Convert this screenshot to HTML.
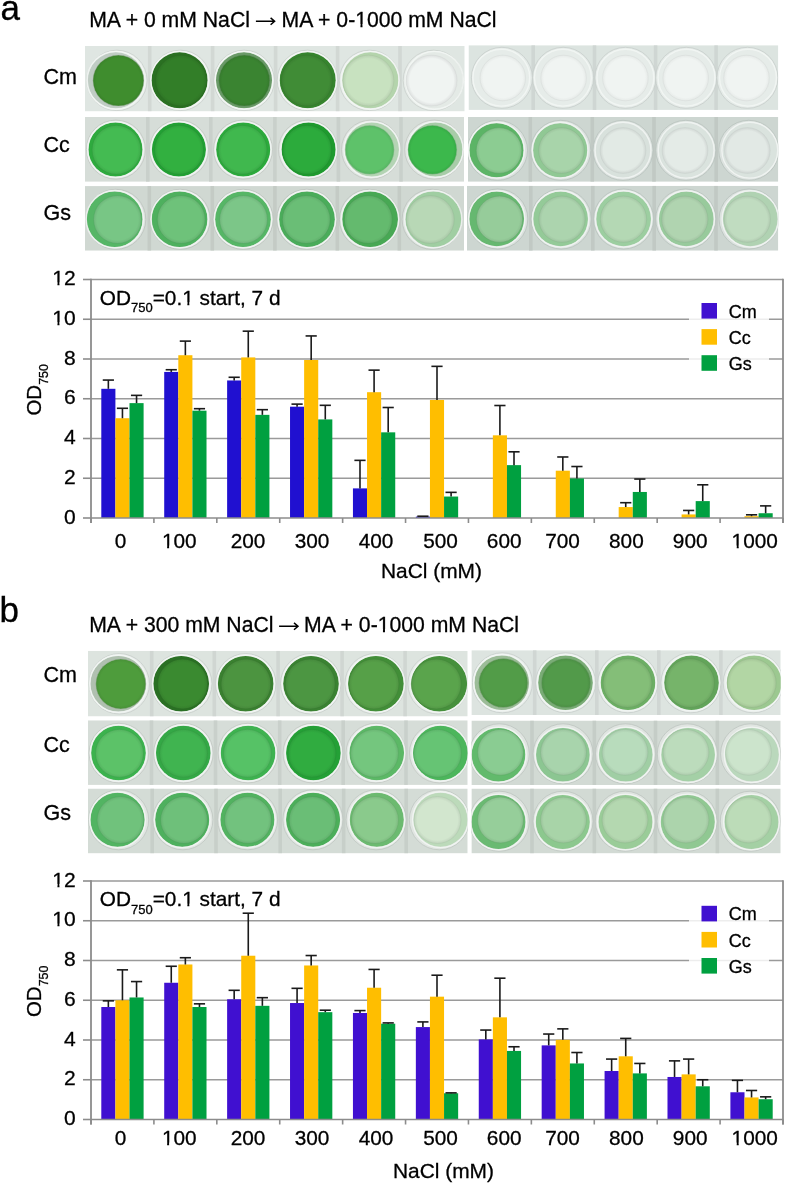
<!DOCTYPE html>
<html><head><meta charset="utf-8"><style>
html,body{margin:0;padding:0;background:#fff;}
body{width:785px;height:1184px;overflow:hidden;position:relative;font-family:"Liberation Sans", sans-serif;}
svg{position:absolute;left:0;top:0;will-change:transform;}
text{stroke:#000;stroke-width:0.3px;}
</style></head><body>
<svg width="785" height="1184" viewBox="0 0 785 1184" font-family='"Liberation Sans", sans-serif' fill="#000">
<text x="0.5" y="20.3" font-size="35">a</text>
<text x="89.2" y="26.9" font-size="21.2">MA + 0 mM NaCl</text>
<path d="M255.9 21.3 H274.3 M270.6 17.9 L274.6 21.3 L270.6 24.8" stroke="#000" stroke-width="1.5" fill="none"/>
<text x="281.6" y="26.9" font-size="21.2">MA + 0-1000 mM NaCl</text>
<text x="-0.5" y="622" font-size="35">b</text>
<text x="89.2" y="631.7" font-size="21.2">MA + 300 mM NaCl</text>
<path d="M279.1 626.3 H297.7 M294 622.9 L298 626.3 L294 629.8" stroke="#000" stroke-width="1.5" fill="none"/>
<text x="304.1" y="631.7" font-size="21.2">MA + 0-1000 mM NaCl</text>
<g font-size="21.5">
<text x="43.6" y="83.8">Cm</text><text x="43.6" y="151.8">Cc</text><text x="43.6" y="219.8">Gs</text>
<text x="43.6" y="682">Cm</text><text x="43.6" y="751.8">Cc</text><text x="43.6" y="820.3">Gs</text>
</g>
<defs><clipPath id="clip0"><rect x="85" y="46" width="379.70" height="65.40"/></clipPath><radialGradient id="rg1" cx="0.5" cy="0.5" r="0.5"><stop offset="0" stop-color="#3f8d2e"/><stop offset="0.86" stop-color="#3f8d2e"/><stop offset="1" stop-color="#3a822a"/></radialGradient><radialGradient id="rg2" cx="0.5" cy="0.5" r="0.5"><stop offset="0" stop-color="#327e28"/><stop offset="0.86" stop-color="#327e28"/><stop offset="1" stop-color="#2e7425"/></radialGradient><radialGradient id="rg3" cx="0.5" cy="0.5" r="0.5"><stop offset="0" stop-color="#3a8431"/><stop offset="0.86" stop-color="#3a8431"/><stop offset="1" stop-color="#35792d"/></radialGradient><radialGradient id="rg4" cx="0.5" cy="0.5" r="0.5"><stop offset="0" stop-color="#408c36"/><stop offset="0.86" stop-color="#408c36"/><stop offset="1" stop-color="#3b8132"/></radialGradient><radialGradient id="rg5" cx="0.5" cy="0.5" r="0.5"><stop offset="0" stop-color="#c8e2c0"/><stop offset="0.86" stop-color="#c8e2c0"/><stop offset="1" stop-color="#b8d0b1"/></radialGradient><radialGradient id="rg6" cx="0.5" cy="0.5" r="0.5"><stop offset="0" stop-color="#f0f4f2"/><stop offset="0.86" stop-color="#f0f4f2"/><stop offset="1" stop-color="#dde0df"/></radialGradient><clipPath id="clip1"><rect x="468.5" y="45.2" width="309.80" height="64.70"/></clipPath><radialGradient id="rg7" cx="0.5" cy="0.5" r="0.5"><stop offset="0" stop-color="#f0f4f2"/><stop offset="0.86" stop-color="#f0f4f2"/><stop offset="1" stop-color="#e6eae8"/></radialGradient><radialGradient id="rg8" cx="0.5" cy="0.5" r="0.5"><stop offset="0" stop-color="#f0f4f2"/><stop offset="0.86" stop-color="#f0f4f2"/><stop offset="1" stop-color="#e6eae8"/></radialGradient><radialGradient id="rg9" cx="0.5" cy="0.5" r="0.5"><stop offset="0" stop-color="#f0f4f2"/><stop offset="0.86" stop-color="#f0f4f2"/><stop offset="1" stop-color="#e6eae8"/></radialGradient><radialGradient id="rg10" cx="0.5" cy="0.5" r="0.5"><stop offset="0" stop-color="#f0f4f2"/><stop offset="0.86" stop-color="#f0f4f2"/><stop offset="1" stop-color="#e6eae8"/></radialGradient><radialGradient id="rg11" cx="0.5" cy="0.5" r="0.5"><stop offset="0" stop-color="#f0f4f2"/><stop offset="0.86" stop-color="#f0f4f2"/><stop offset="1" stop-color="#e6eae8"/></radialGradient><clipPath id="clip2"><rect x="85" y="116.9" width="379.00" height="64.90"/></clipPath><radialGradient id="rg12" cx="0.5" cy="0.5" r="0.5"><stop offset="0" stop-color="#44bb52"/><stop offset="0.86" stop-color="#44bb52"/><stop offset="1" stop-color="#3fac4b"/></radialGradient><radialGradient id="rg13" cx="0.5" cy="0.5" r="0.5"><stop offset="0" stop-color="#32b040"/><stop offset="0.86" stop-color="#32b040"/><stop offset="1" stop-color="#2ea23b"/></radialGradient><radialGradient id="rg14" cx="0.5" cy="0.5" r="0.5"><stop offset="0" stop-color="#40b84e"/><stop offset="0.86" stop-color="#40b84e"/><stop offset="1" stop-color="#3ba948"/></radialGradient><radialGradient id="rg15" cx="0.5" cy="0.5" r="0.5"><stop offset="0" stop-color="#2cab3c"/><stop offset="0.86" stop-color="#2cab3c"/><stop offset="1" stop-color="#289d37"/></radialGradient><radialGradient id="rg16" cx="0.5" cy="0.5" r="0.5"><stop offset="0" stop-color="#5ec26a"/><stop offset="0.86" stop-color="#5ec26a"/><stop offset="1" stop-color="#56b262"/></radialGradient><radialGradient id="rg17" cx="0.5" cy="0.5" r="0.5"><stop offset="0" stop-color="#3cb84c"/><stop offset="0.86" stop-color="#3cb84c"/><stop offset="1" stop-color="#37a946"/></radialGradient><clipPath id="clip3"><rect x="468" y="116.9" width="310.30" height="64.90"/></clipPath><radialGradient id="rg18" cx="0.5" cy="0.5" r="0.5"><stop offset="0" stop-color="#8ccc92"/><stop offset="0.86" stop-color="#8ccc92"/><stop offset="1" stop-color="#81bc86"/></radialGradient><radialGradient id="rg19" cx="0.5" cy="0.5" r="0.5"><stop offset="0" stop-color="#a8d4aa"/><stop offset="0.86" stop-color="#a8d4aa"/><stop offset="1" stop-color="#9bc39c"/></radialGradient><radialGradient id="rg20" cx="0.5" cy="0.5" r="0.5"><stop offset="0" stop-color="#e2eae5"/><stop offset="0.86" stop-color="#e2eae5"/><stop offset="1" stop-color="#d0d7d3"/></radialGradient><radialGradient id="rg21" cx="0.5" cy="0.5" r="0.5"><stop offset="0" stop-color="#e4ebe7"/><stop offset="0.86" stop-color="#e4ebe7"/><stop offset="1" stop-color="#d2d8d5"/></radialGradient><radialGradient id="rg22" cx="0.5" cy="0.5" r="0.5"><stop offset="0" stop-color="#e2e9e5"/><stop offset="0.86" stop-color="#e2e9e5"/><stop offset="1" stop-color="#d0d6d3"/></radialGradient><clipPath id="clip4"><rect x="85" y="186.1" width="379.00" height="64.60"/></clipPath><radialGradient id="rg23" cx="0.5" cy="0.5" r="0.5"><stop offset="0" stop-color="#78c685"/><stop offset="0.86" stop-color="#78c685"/><stop offset="1" stop-color="#6eb67a"/></radialGradient><radialGradient id="rg24" cx="0.5" cy="0.5" r="0.5"><stop offset="0" stop-color="#6ec27a"/><stop offset="0.86" stop-color="#6ec27a"/><stop offset="1" stop-color="#65b270"/></radialGradient><radialGradient id="rg25" cx="0.5" cy="0.5" r="0.5"><stop offset="0" stop-color="#7cc688"/><stop offset="0.86" stop-color="#7cc688"/><stop offset="1" stop-color="#72b67d"/></radialGradient><radialGradient id="rg26" cx="0.5" cy="0.5" r="0.5"><stop offset="0" stop-color="#6abe76"/><stop offset="0.86" stop-color="#6abe76"/><stop offset="1" stop-color="#62af6d"/></radialGradient><radialGradient id="rg27" cx="0.5" cy="0.5" r="0.5"><stop offset="0" stop-color="#64ba6e"/><stop offset="0.86" stop-color="#64ba6e"/><stop offset="1" stop-color="#5cab65"/></radialGradient><radialGradient id="rg28" cx="0.5" cy="0.5" r="0.5"><stop offset="0" stop-color="#b8d8b6"/><stop offset="0.86" stop-color="#b8d8b6"/><stop offset="1" stop-color="#a9c7a7"/></radialGradient><clipPath id="clip5"><rect x="467" y="185.8" width="311.30" height="64.90"/></clipPath><radialGradient id="rg29" cx="0.5" cy="0.5" r="0.5"><stop offset="0" stop-color="#96cc9a"/><stop offset="0.86" stop-color="#96cc9a"/><stop offset="1" stop-color="#8abc8e"/></radialGradient><radialGradient id="rg30" cx="0.5" cy="0.5" r="0.5"><stop offset="0" stop-color="#acd4ae"/><stop offset="0.86" stop-color="#acd4ae"/><stop offset="1" stop-color="#9ec3a0"/></radialGradient><radialGradient id="rg31" cx="0.5" cy="0.5" r="0.5"><stop offset="0" stop-color="#b4d8b4"/><stop offset="0.86" stop-color="#b4d8b4"/><stop offset="1" stop-color="#a6c7a6"/></radialGradient><radialGradient id="rg32" cx="0.5" cy="0.5" r="0.5"><stop offset="0" stop-color="#b0d4b0"/><stop offset="0.86" stop-color="#b0d4b0"/><stop offset="1" stop-color="#a2c3a2"/></radialGradient><radialGradient id="rg33" cx="0.5" cy="0.5" r="0.5"><stop offset="0" stop-color="#c0dcc0"/><stop offset="0.86" stop-color="#c0dcc0"/><stop offset="1" stop-color="#b1cab1"/></radialGradient><clipPath id="clip6"><rect x="88" y="650.8" width="379.70" height="65.70"/></clipPath><radialGradient id="rg34" cx="0.5" cy="0.5" r="0.5"><stop offset="0" stop-color="#4e9c3c"/><stop offset="0.86" stop-color="#4e9c3c"/><stop offset="1" stop-color="#489037"/></radialGradient><radialGradient id="rg35" cx="0.5" cy="0.5" r="0.5"><stop offset="0" stop-color="#3a8a30"/><stop offset="0.86" stop-color="#3a8a30"/><stop offset="1" stop-color="#357f2c"/></radialGradient><radialGradient id="rg36" cx="0.5" cy="0.5" r="0.5"><stop offset="0" stop-color="#4c9440"/><stop offset="0.86" stop-color="#4c9440"/><stop offset="1" stop-color="#46883b"/></radialGradient><radialGradient id="rg37" cx="0.5" cy="0.5" r="0.5"><stop offset="0" stop-color="#4c9642"/><stop offset="0.86" stop-color="#4c9642"/><stop offset="1" stop-color="#468a3d"/></radialGradient><radialGradient id="rg38" cx="0.5" cy="0.5" r="0.5"><stop offset="0" stop-color="#56a048"/><stop offset="0.86" stop-color="#56a048"/><stop offset="1" stop-color="#4f9342"/></radialGradient><radialGradient id="rg39" cx="0.5" cy="0.5" r="0.5"><stop offset="0" stop-color="#5aa44c"/><stop offset="0.86" stop-color="#5aa44c"/><stop offset="1" stop-color="#539746"/></radialGradient><clipPath id="clip7"><rect x="471.4" y="650.2" width="309.30" height="64.90"/></clipPath><radialGradient id="rg40" cx="0.5" cy="0.5" r="0.5"><stop offset="0" stop-color="#529c48"/><stop offset="0.86" stop-color="#529c48"/><stop offset="1" stop-color="#4b9042"/></radialGradient><radialGradient id="rg41" cx="0.5" cy="0.5" r="0.5"><stop offset="0" stop-color="#529a4a"/><stop offset="0.86" stop-color="#529a4a"/><stop offset="1" stop-color="#4b8e44"/></radialGradient><radialGradient id="rg42" cx="0.5" cy="0.5" r="0.5"><stop offset="0" stop-color="#84be78"/><stop offset="0.86" stop-color="#84be78"/><stop offset="1" stop-color="#79af6e"/></radialGradient><radialGradient id="rg43" cx="0.5" cy="0.5" r="0.5"><stop offset="0" stop-color="#76b46a"/><stop offset="0.86" stop-color="#76b46a"/><stop offset="1" stop-color="#6da662"/></radialGradient><radialGradient id="rg44" cx="0.5" cy="0.5" r="0.5"><stop offset="0" stop-color="#b2d6a4"/><stop offset="0.86" stop-color="#b2d6a4"/><stop offset="1" stop-color="#a4c597"/></radialGradient><clipPath id="clip8"><rect x="88" y="720.3" width="379.70" height="64.60"/></clipPath><radialGradient id="rg45" cx="0.5" cy="0.5" r="0.5"><stop offset="0" stop-color="#5cc268"/><stop offset="0.86" stop-color="#5cc268"/><stop offset="1" stop-color="#55b260"/></radialGradient><radialGradient id="rg46" cx="0.5" cy="0.5" r="0.5"><stop offset="0" stop-color="#40b450"/><stop offset="0.86" stop-color="#40b450"/><stop offset="1" stop-color="#3ba64a"/></radialGradient><radialGradient id="rg47" cx="0.5" cy="0.5" r="0.5"><stop offset="0" stop-color="#56c266"/><stop offset="0.86" stop-color="#56c266"/><stop offset="1" stop-color="#4fb25e"/></radialGradient><radialGradient id="rg48" cx="0.5" cy="0.5" r="0.5"><stop offset="0" stop-color="#30ac40"/><stop offset="0.86" stop-color="#30ac40"/><stop offset="1" stop-color="#2c9e3b"/></radialGradient><radialGradient id="rg49" cx="0.5" cy="0.5" r="0.5"><stop offset="0" stop-color="#74c67e"/><stop offset="0.86" stop-color="#74c67e"/><stop offset="1" stop-color="#6bb674"/></radialGradient><radialGradient id="rg50" cx="0.5" cy="0.5" r="0.5"><stop offset="0" stop-color="#66c474"/><stop offset="0.86" stop-color="#66c474"/><stop offset="1" stop-color="#5eb46b"/></radialGradient><clipPath id="clip9"><rect x="471.4" y="720.5" width="309.30" height="64.60"/></clipPath><radialGradient id="rg51" cx="0.5" cy="0.5" r="0.5"><stop offset="0" stop-color="#8acc92"/><stop offset="0.86" stop-color="#8acc92"/><stop offset="1" stop-color="#7fbc86"/></radialGradient><radialGradient id="rg52" cx="0.5" cy="0.5" r="0.5"><stop offset="0" stop-color="#a8d4ac"/><stop offset="0.86" stop-color="#a8d4ac"/><stop offset="1" stop-color="#9bc39e"/></radialGradient><radialGradient id="rg53" cx="0.5" cy="0.5" r="0.5"><stop offset="0" stop-color="#b8dcbc"/><stop offset="0.86" stop-color="#b8dcbc"/><stop offset="1" stop-color="#a9caad"/></radialGradient><radialGradient id="rg54" cx="0.5" cy="0.5" r="0.5"><stop offset="0" stop-color="#bcdcbc"/><stop offset="0.86" stop-color="#bcdcbc"/><stop offset="1" stop-color="#adcaad"/></radialGradient><radialGradient id="rg55" cx="0.5" cy="0.5" r="0.5"><stop offset="0" stop-color="#cce4cc"/><stop offset="0.86" stop-color="#cce4cc"/><stop offset="1" stop-color="#bcd2bc"/></radialGradient><clipPath id="clip10"><rect x="88" y="788.5" width="379.70" height="64.90"/></clipPath><radialGradient id="rg56" cx="0.5" cy="0.5" r="0.5"><stop offset="0" stop-color="#70c27c"/><stop offset="0.86" stop-color="#70c27c"/><stop offset="1" stop-color="#67b272"/></radialGradient><radialGradient id="rg57" cx="0.5" cy="0.5" r="0.5"><stop offset="0" stop-color="#6ec07a"/><stop offset="0.86" stop-color="#6ec07a"/><stop offset="1" stop-color="#65b170"/></radialGradient><radialGradient id="rg58" cx="0.5" cy="0.5" r="0.5"><stop offset="0" stop-color="#72c27e"/><stop offset="0.86" stop-color="#72c27e"/><stop offset="1" stop-color="#69b274"/></radialGradient><radialGradient id="rg59" cx="0.5" cy="0.5" r="0.5"><stop offset="0" stop-color="#6abe76"/><stop offset="0.86" stop-color="#6abe76"/><stop offset="1" stop-color="#62af6d"/></radialGradient><radialGradient id="rg60" cx="0.5" cy="0.5" r="0.5"><stop offset="0" stop-color="#8aca8c"/><stop offset="0.86" stop-color="#8aca8c"/><stop offset="1" stop-color="#7fba81"/></radialGradient><radialGradient id="rg61" cx="0.5" cy="0.5" r="0.5"><stop offset="0" stop-color="#d2e6ce"/><stop offset="0.86" stop-color="#d2e6ce"/><stop offset="1" stop-color="#c1d4be"/></radialGradient><clipPath id="clip11"><rect x="471.4" y="788.5" width="309.30" height="64.90"/></clipPath><radialGradient id="rg62" cx="0.5" cy="0.5" r="0.5"><stop offset="0" stop-color="#96ce9a"/><stop offset="0.86" stop-color="#96ce9a"/><stop offset="1" stop-color="#8abe8e"/></radialGradient><radialGradient id="rg63" cx="0.5" cy="0.5" r="0.5"><stop offset="0" stop-color="#a8d4a8"/><stop offset="0.86" stop-color="#a8d4a8"/><stop offset="1" stop-color="#9bc39b"/></radialGradient><radialGradient id="rg64" cx="0.5" cy="0.5" r="0.5"><stop offset="0" stop-color="#b4d8b0"/><stop offset="0.86" stop-color="#b4d8b0"/><stop offset="1" stop-color="#a6c7a2"/></radialGradient><radialGradient id="rg65" cx="0.5" cy="0.5" r="0.5"><stop offset="0" stop-color="#acd4ac"/><stop offset="0.86" stop-color="#acd4ac"/><stop offset="1" stop-color="#9ec39e"/></radialGradient><radialGradient id="rg66" cx="0.5" cy="0.5" r="0.5"><stop offset="0" stop-color="#bcdcb8"/><stop offset="0.86" stop-color="#bcdcb8"/><stop offset="1" stop-color="#adcaa9"/></radialGradient></defs><g clip-path="url(#clip0)">
<rect x="85" y="46" width="379.70" height="65.40" fill="#dfe6e2"/>
<rect x="147.9" y="46" width="3.6" height="65.40" fill="#d2d8d4"/>
<rect x="210.8" y="46" width="3.6" height="65.40" fill="#d2d8d4"/>
<rect x="273.8" y="46" width="3.6" height="65.40" fill="#d2d8d4"/>
<rect x="335.8" y="46" width="3.6" height="65.40" fill="#d2d8d4"/>
<rect x="398.2" y="46" width="3.6" height="65.40" fill="#d2d8d4"/>
<circle cx="116.9" cy="80.4" r="30.2" fill="#e9eeeb" stroke="#c9cfcb" stroke-width="0.8"/>
<circle cx="115.9" cy="80.3" r="28.0" fill="#c0ccc4"/>
<circle cx="115.9" cy="80.3" r="28.9" fill="none" stroke="#f4f7f5" stroke-width="1.4" stroke-opacity="0.8"/>
<circle cx="118.4" cy="80.6" r="25.5" fill="url(#rg1)" stroke="#b1bcb4" stroke-width="0.8" stroke-opacity="0.6"/>
<circle cx="180.2" cy="80.4" r="30.2" fill="#e9eeeb" stroke="#c9cfcb" stroke-width="0.8"/>
<circle cx="179.6" cy="80.3" r="28.0" fill="#2a7022"/>
<circle cx="179.6" cy="80.3" r="28.9" fill="none" stroke="#f4f7f5" stroke-width="1.4" stroke-opacity="0.8"/>
<circle cx="181.0" cy="80.6" r="25.5" fill="url(#rg2)" stroke="#27671f" stroke-width="0.8" stroke-opacity="0.6"/>
<circle cx="244.1" cy="80.4" r="30.2" fill="#e9eeeb" stroke="#c9cfcb" stroke-width="0.8"/>
<circle cx="244.0" cy="80.3" r="28.0" fill="#6a9a68"/>
<circle cx="244.0" cy="80.3" r="28.9" fill="none" stroke="#f4f7f5" stroke-width="1.4" stroke-opacity="0.8"/>
<circle cx="244.3" cy="80.6" r="25.5" fill="url(#rg3)" stroke="#628e60" stroke-width="0.8" stroke-opacity="0.6"/>
<circle cx="307.4" cy="80.4" r="30.2" fill="#e9eeeb" stroke="#c9cfcb" stroke-width="0.8"/>
<circle cx="307.7" cy="80.3" r="28.0" fill="#36842e"/>
<circle cx="307.7" cy="80.3" r="28.9" fill="none" stroke="#f4f7f5" stroke-width="1.4" stroke-opacity="0.8"/>
<circle cx="306.9" cy="80.6" r="25.5" fill="url(#rg4)" stroke="#32792a" stroke-width="0.8" stroke-opacity="0.6"/>
<circle cx="369.5" cy="80.4" r="30.2" fill="#e9eeeb" stroke="#c9cfcb" stroke-width="0.8"/>
<circle cx="370.3" cy="80.3" r="28.0" fill="#b4d4ac"/>
<circle cx="370.3" cy="80.3" r="28.9" fill="none" stroke="#f4f7f5" stroke-width="1.4" stroke-opacity="0.8"/>
<circle cx="368.4" cy="80.6" r="25.5" fill="url(#rg5)" stroke="#a6c39e" stroke-width="0.8" stroke-opacity="0.6"/>
<circle cx="433.4" cy="80.4" r="30.2" fill="#e9eeeb" stroke="#c9cfcb" stroke-width="0.8"/>
<circle cx="434.6" cy="80.3" r="28.0" fill="#e4eae6"/>
<circle cx="434.6" cy="80.3" r="28.9" fill="none" stroke="#f4f7f5" stroke-width="1.4" stroke-opacity="0.8"/>
<circle cx="431.6" cy="80.6" r="25.5" fill="url(#rg6)" stroke="#d2d7d4" stroke-width="0.8" stroke-opacity="0.6"/>
</g>
<g clip-path="url(#clip1)">
<rect x="468.5" y="45.2" width="309.80" height="64.70" fill="#dce4e0"/>
<rect x="531.4" y="45.2" width="3.6" height="64.70" fill="#cfd6d3"/>
<rect x="592.7" y="45.2" width="3.6" height="64.70" fill="#cfd6d3"/>
<rect x="653.8" y="45.2" width="3.6" height="64.70" fill="#cfd6d3"/>
<rect x="714.3" y="45.2" width="3.6" height="64.70" fill="#cfd6d3"/>
<circle cx="501.9" cy="77.8" r="30.5" fill="#e6ece9" stroke="#c6cdca" stroke-width="0.8"/>
<circle cx="501.3" cy="77.7" r="27.5" fill="#e6ece9"/>
<circle cx="501.3" cy="77.7" r="28.4" fill="none" stroke="#f4f7f5" stroke-width="1.4" stroke-opacity="0.8"/>
<circle cx="502.8" cy="78.0" r="22.8" fill="url(#rg7)" stroke="#d4d9d6" stroke-width="0.8" stroke-opacity="0.6"/>
<circle cx="563.1" cy="77.8" r="30.5" fill="#e6ece9" stroke="#c6cdca" stroke-width="0.8"/>
<circle cx="562.9" cy="77.7" r="27.5" fill="#e6ece9"/>
<circle cx="562.9" cy="77.7" r="28.4" fill="none" stroke="#f4f7f5" stroke-width="1.4" stroke-opacity="0.8"/>
<circle cx="563.6" cy="78.0" r="22.8" fill="url(#rg8)" stroke="#d4d9d6" stroke-width="0.8" stroke-opacity="0.6"/>
<circle cx="625.4" cy="77.8" r="30.5" fill="#e6ece9" stroke="#c6cdca" stroke-width="0.8"/>
<circle cx="625.4" cy="77.7" r="27.5" fill="#e6ece9"/>
<circle cx="625.4" cy="77.7" r="28.4" fill="none" stroke="#f4f7f5" stroke-width="1.4" stroke-opacity="0.8"/>
<circle cx="625.4" cy="78.0" r="22.8" fill="url(#rg9)" stroke="#d4d9d6" stroke-width="0.8" stroke-opacity="0.6"/>
<circle cx="686.2" cy="77.8" r="30.5" fill="#e6ece9" stroke="#c6cdca" stroke-width="0.8"/>
<circle cx="686.5" cy="77.7" r="27.5" fill="#e6ece9"/>
<circle cx="686.5" cy="77.7" r="28.4" fill="none" stroke="#f4f7f5" stroke-width="1.4" stroke-opacity="0.8"/>
<circle cx="685.7" cy="78.0" r="22.8" fill="url(#rg10)" stroke="#d4d9d6" stroke-width="0.8" stroke-opacity="0.6"/>
<circle cx="747.4" cy="77.8" r="30.5" fill="#e6ece9" stroke="#c6cdca" stroke-width="0.8"/>
<circle cx="748.0" cy="77.7" r="27.5" fill="#e6ece9"/>
<circle cx="748.0" cy="77.7" r="28.4" fill="none" stroke="#f4f7f5" stroke-width="1.4" stroke-opacity="0.8"/>
<circle cx="746.5" cy="78.0" r="22.8" fill="url(#rg11)" stroke="#d4d9d6" stroke-width="0.8" stroke-opacity="0.6"/>
</g>
<g clip-path="url(#clip2)">
<rect x="85" y="116.9" width="379.00" height="64.90" fill="#d6ddd8"/>
<rect x="146.0" y="116.9" width="3.6" height="64.90" fill="#c9d0cb"/>
<rect x="209.0" y="116.9" width="3.6" height="64.90" fill="#c9d0cb"/>
<rect x="273.1" y="116.9" width="3.6" height="64.90" fill="#c9d0cb"/>
<rect x="336.6" y="116.9" width="3.6" height="64.90" fill="#c9d0cb"/>
<rect x="399.2" y="116.9" width="3.6" height="64.90" fill="#c9d0cb"/>
<circle cx="115.9" cy="149.6" r="29.5" fill="#e2e7e4" stroke="#c1c7c2" stroke-width="0.8"/>
<circle cx="115.5" cy="149.5" r="27.0" fill="#2eaa3e"/>
<circle cx="115.5" cy="149.5" r="27.9" fill="none" stroke="#f4f7f5" stroke-width="1.4" stroke-opacity="0.8"/>
<circle cx="116.5" cy="149.8" r="24.5" fill="url(#rg12)" stroke="#2a9c39" stroke-width="0.8" stroke-opacity="0.6"/>
<circle cx="179.0" cy="149.6" r="29.5" fill="#e2e7e4" stroke="#c1c7c2" stroke-width="0.8"/>
<circle cx="178.9" cy="149.5" r="27.0" fill="#22a034"/>
<circle cx="178.9" cy="149.5" r="27.9" fill="none" stroke="#f4f7f5" stroke-width="1.4" stroke-opacity="0.8"/>
<circle cx="179.1" cy="149.8" r="24.5" fill="url(#rg13)" stroke="#1f9330" stroke-width="0.8" stroke-opacity="0.6"/>
<circle cx="243.0" cy="149.6" r="29.5" fill="#e2e7e4" stroke="#c1c7c2" stroke-width="0.8"/>
<circle cx="243.2" cy="149.5" r="27.0" fill="#2caa3c"/>
<circle cx="243.2" cy="149.5" r="27.9" fill="none" stroke="#f4f7f5" stroke-width="1.4" stroke-opacity="0.8"/>
<circle cx="242.6" cy="149.8" r="24.5" fill="url(#rg14)" stroke="#289c37" stroke-width="0.8" stroke-opacity="0.6"/>
<circle cx="308.0" cy="149.6" r="29.5" fill="#e2e7e4" stroke="#c1c7c2" stroke-width="0.8"/>
<circle cx="308.6" cy="149.5" r="27.0" fill="#1e9a2e"/>
<circle cx="308.6" cy="149.5" r="27.9" fill="none" stroke="#f4f7f5" stroke-width="1.4" stroke-opacity="0.8"/>
<circle cx="307.2" cy="149.8" r="24.5" fill="url(#rg15)" stroke="#1c8e2a" stroke-width="0.8" stroke-opacity="0.6"/>
<circle cx="371.0" cy="149.6" r="29.5" fill="#e2e7e4" stroke="#c1c7c2" stroke-width="0.8"/>
<circle cx="371.9" cy="149.5" r="27.0" fill="#b4d4b4"/>
<circle cx="371.9" cy="149.5" r="27.9" fill="none" stroke="#f4f7f5" stroke-width="1.4" stroke-opacity="0.8"/>
<circle cx="369.7" cy="149.8" r="24.5" fill="url(#rg16)" stroke="#a6c3a6" stroke-width="0.8" stroke-opacity="0.6"/>
<circle cx="434.2" cy="149.6" r="29.5" fill="#e2e7e4" stroke="#c1c7c2" stroke-width="0.8"/>
<circle cx="435.4" cy="149.5" r="27.0" fill="#a8cca8"/>
<circle cx="435.4" cy="149.5" r="27.9" fill="none" stroke="#f4f7f5" stroke-width="1.4" stroke-opacity="0.8"/>
<circle cx="432.4" cy="149.8" r="24.5" fill="url(#rg17)" stroke="#9bbc9b" stroke-width="0.8" stroke-opacity="0.6"/>
</g>
<g clip-path="url(#clip3)">
<rect x="468" y="116.9" width="310.30" height="64.90" fill="#cdd6d1"/>
<rect x="528.5" y="116.9" width="3.6" height="64.90" fill="#c1c9c4"/>
<rect x="590.5" y="116.9" width="3.6" height="64.90" fill="#c1c9c4"/>
<rect x="652.2" y="116.9" width="3.6" height="64.90" fill="#c1c9c4"/>
<rect x="714.4" y="116.9" width="3.6" height="64.90" fill="#c1c9c4"/>
<circle cx="497.5" cy="150.3" r="30.0" fill="#dce2df" stroke="#b8c1bc" stroke-width="0.8"/>
<circle cx="496.5" cy="150.2" r="27.0" fill="#5cb466"/>
<circle cx="496.5" cy="150.2" r="27.9" fill="none" stroke="#f4f7f5" stroke-width="1.4" stroke-opacity="0.8"/>
<circle cx="499.0" cy="150.5" r="22.9" fill="url(#rg18)" stroke="#55a65e" stroke-width="0.8" stroke-opacity="0.6"/>
<circle cx="560.8" cy="150.3" r="30.0" fill="#dce2df" stroke="#b8c1bc" stroke-width="0.8"/>
<circle cx="560.2" cy="150.2" r="27.0" fill="#90c894"/>
<circle cx="560.2" cy="150.2" r="27.9" fill="none" stroke="#f4f7f5" stroke-width="1.4" stroke-opacity="0.8"/>
<circle cx="561.5" cy="150.5" r="22.9" fill="url(#rg19)" stroke="#84b888" stroke-width="0.8" stroke-opacity="0.6"/>
<circle cx="623.0" cy="150.3" r="30.0" fill="#dce2df" stroke="#b8c1bc" stroke-width="0.8"/>
<circle cx="623.0" cy="150.2" r="27.0" fill="#d8e1dc"/>
<circle cx="623.0" cy="150.2" r="27.9" fill="none" stroke="#f4f7f5" stroke-width="1.4" stroke-opacity="0.8"/>
<circle cx="623.0" cy="150.5" r="22.9" fill="url(#rg20)" stroke="#c7cfca" stroke-width="0.8" stroke-opacity="0.6"/>
<circle cx="685.8" cy="150.3" r="30.0" fill="#dce2df" stroke="#b8c1bc" stroke-width="0.8"/>
<circle cx="686.2" cy="150.2" r="27.0" fill="#dae3de"/>
<circle cx="686.2" cy="150.2" r="27.9" fill="none" stroke="#f4f7f5" stroke-width="1.4" stroke-opacity="0.8"/>
<circle cx="685.0" cy="150.5" r="22.9" fill="url(#rg21)" stroke="#c9d1cc" stroke-width="0.8" stroke-opacity="0.6"/>
<circle cx="748.8" cy="150.3" r="30.0" fill="#dce2df" stroke="#b8c1bc" stroke-width="0.8"/>
<circle cx="749.8" cy="150.2" r="27.0" fill="#dae3de"/>
<circle cx="749.8" cy="150.2" r="27.9" fill="none" stroke="#f4f7f5" stroke-width="1.4" stroke-opacity="0.8"/>
<circle cx="747.3" cy="150.5" r="22.9" fill="url(#rg22)" stroke="#c9d1cc" stroke-width="0.8" stroke-opacity="0.6"/>
</g>
<g clip-path="url(#clip4)">
<rect x="85" y="186.1" width="379.00" height="64.60" fill="#d0d8d2"/>
<rect x="147.5" y="186.1" width="3.6" height="64.60" fill="#c4cbc5"/>
<rect x="210.5" y="186.1" width="3.6" height="64.60" fill="#c4cbc5"/>
<rect x="273.1" y="186.1" width="3.6" height="64.60" fill="#c4cbc5"/>
<rect x="335.5" y="186.1" width="3.6" height="64.60" fill="#c4cbc5"/>
<rect x="397.5" y="186.1" width="3.6" height="64.60" fill="#c4cbc5"/>
<circle cx="115.8" cy="219.3" r="30.0" fill="#dee4e0" stroke="#bbc2bd" stroke-width="0.8"/>
<circle cx="114.7" cy="219.2" r="27.8" fill="#56b666"/>
<circle cx="114.7" cy="219.2" r="28.7" fill="none" stroke="#f4f7f5" stroke-width="1.4" stroke-opacity="0.8"/>
<circle cx="117.5" cy="219.5" r="24.0" fill="url(#rg23)" stroke="#4fa75e" stroke-width="0.8" stroke-opacity="0.6"/>
<circle cx="180.2" cy="219.3" r="30.0" fill="#dee4e0" stroke="#bbc2bd" stroke-width="0.8"/>
<circle cx="179.6" cy="219.2" r="27.8" fill="#4eb05e"/>
<circle cx="179.6" cy="219.2" r="28.7" fill="none" stroke="#f4f7f5" stroke-width="1.4" stroke-opacity="0.8"/>
<circle cx="181.2" cy="219.5" r="24.0" fill="url(#rg24)" stroke="#48a256" stroke-width="0.8" stroke-opacity="0.6"/>
<circle cx="243.2" cy="219.3" r="30.0" fill="#dee4e0" stroke="#bbc2bd" stroke-width="0.8"/>
<circle cx="243.0" cy="219.2" r="27.8" fill="#56b666"/>
<circle cx="243.0" cy="219.2" r="28.7" fill="none" stroke="#f4f7f5" stroke-width="1.4" stroke-opacity="0.8"/>
<circle cx="243.5" cy="219.5" r="24.0" fill="url(#rg25)" stroke="#4fa75e" stroke-width="0.8" stroke-opacity="0.6"/>
<circle cx="306.7" cy="219.3" r="30.0" fill="#dee4e0" stroke="#bbc2bd" stroke-width="0.8"/>
<circle cx="307.0" cy="219.2" r="27.8" fill="#4aac5a"/>
<circle cx="307.0" cy="219.2" r="28.7" fill="none" stroke="#f4f7f5" stroke-width="1.4" stroke-opacity="0.8"/>
<circle cx="306.3" cy="219.5" r="24.0" fill="url(#rg26)" stroke="#449e53" stroke-width="0.8" stroke-opacity="0.6"/>
<circle cx="369.4" cy="219.3" r="30.0" fill="#dee4e0" stroke="#bbc2bd" stroke-width="0.8"/>
<circle cx="370.1" cy="219.2" r="27.8" fill="#48a854"/>
<circle cx="370.1" cy="219.2" r="28.7" fill="none" stroke="#f4f7f5" stroke-width="1.4" stroke-opacity="0.8"/>
<circle cx="368.3" cy="219.5" r="24.0" fill="url(#rg27)" stroke="#429b4d" stroke-width="0.8" stroke-opacity="0.6"/>
<circle cx="432.1" cy="219.3" r="30.0" fill="#dee4e0" stroke="#bbc2bd" stroke-width="0.8"/>
<circle cx="433.3" cy="219.2" r="27.8" fill="#a0cea2"/>
<circle cx="433.3" cy="219.2" r="28.7" fill="none" stroke="#f4f7f5" stroke-width="1.4" stroke-opacity="0.8"/>
<circle cx="430.3" cy="219.5" r="24.0" fill="url(#rg28)" stroke="#93be95" stroke-width="0.8" stroke-opacity="0.6"/>
</g>
<g clip-path="url(#clip5)">
<rect x="467" y="185.8" width="311.30" height="64.90" fill="#cdd6d1"/>
<rect x="529.0" y="185.8" width="3.6" height="64.90" fill="#c1c9c4"/>
<rect x="591.0" y="185.8" width="3.6" height="64.90" fill="#c1c9c4"/>
<rect x="652.4" y="185.8" width="3.6" height="64.90" fill="#c1c9c4"/>
<rect x="714.2" y="185.8" width="3.6" height="64.90" fill="#c1c9c4"/>
<circle cx="497.8" cy="219.0" r="30.0" fill="#dce2df" stroke="#b8c1bc" stroke-width="0.8"/>
<circle cx="496.7" cy="218.9" r="27.3" fill="#66b870"/>
<circle cx="496.7" cy="218.9" r="28.2" fill="none" stroke="#f4f7f5" stroke-width="1.4" stroke-opacity="0.8"/>
<circle cx="499.5" cy="219.2" r="23.2" fill="url(#rg29)" stroke="#5ea967" stroke-width="0.8" stroke-opacity="0.6"/>
<circle cx="561.2" cy="219.0" r="30.0" fill="#dce2df" stroke="#b8c1bc" stroke-width="0.8"/>
<circle cx="560.6" cy="218.9" r="27.3" fill="#94ca98"/>
<circle cx="560.6" cy="218.9" r="28.2" fill="none" stroke="#f4f7f5" stroke-width="1.4" stroke-opacity="0.8"/>
<circle cx="562.0" cy="219.2" r="23.2" fill="url(#rg30)" stroke="#88ba8c" stroke-width="0.8" stroke-opacity="0.6"/>
<circle cx="623.6" cy="219.0" r="30.0" fill="#dce2df" stroke="#b8c1bc" stroke-width="0.8"/>
<circle cx="623.6" cy="218.9" r="27.3" fill="#9ccea0"/>
<circle cx="623.6" cy="218.9" r="28.2" fill="none" stroke="#f4f7f5" stroke-width="1.4" stroke-opacity="0.8"/>
<circle cx="623.5" cy="219.2" r="23.2" fill="url(#rg31)" stroke="#90be93" stroke-width="0.8" stroke-opacity="0.6"/>
<circle cx="685.7" cy="219.0" r="30.0" fill="#dce2df" stroke="#b8c1bc" stroke-width="0.8"/>
<circle cx="686.3" cy="218.9" r="27.3" fill="#98ca9c"/>
<circle cx="686.3" cy="218.9" r="28.2" fill="none" stroke="#f4f7f5" stroke-width="1.4" stroke-opacity="0.8"/>
<circle cx="684.8" cy="219.2" r="23.2" fill="url(#rg32)" stroke="#8cba90" stroke-width="0.8" stroke-opacity="0.6"/>
<circle cx="749.1" cy="219.0" r="30.0" fill="#dce2df" stroke="#b8c1bc" stroke-width="0.8"/>
<circle cx="750.3" cy="218.9" r="27.3" fill="#b0d2b2"/>
<circle cx="750.3" cy="218.9" r="28.2" fill="none" stroke="#f4f7f5" stroke-width="1.4" stroke-opacity="0.8"/>
<circle cx="747.3" cy="219.2" r="23.2" fill="url(#rg33)" stroke="#a2c1a4" stroke-width="0.8" stroke-opacity="0.6"/>
</g>
<g clip-path="url(#clip6)">
<rect x="88" y="650.8" width="379.70" height="65.70" fill="#dde4df"/>
<rect x="149.9" y="650.8" width="3.6" height="65.70" fill="#d0d6d2"/>
<rect x="212.5" y="650.8" width="3.6" height="65.70" fill="#d0d6d2"/>
<rect x="276.3" y="650.8" width="3.6" height="65.70" fill="#d0d6d2"/>
<rect x="340.3" y="650.8" width="3.6" height="65.70" fill="#d0d6d2"/>
<rect x="403.3" y="650.8" width="3.6" height="65.70" fill="#d0d6d2"/>
<circle cx="119.3" cy="683.8" r="30.2" fill="#e7ece9" stroke="#c7cdc9" stroke-width="0.8"/>
<circle cx="118.3" cy="683.7" r="27.8" fill="#b0c0b0"/>
<circle cx="118.3" cy="683.7" r="28.7" fill="none" stroke="#f4f7f5" stroke-width="1.4" stroke-opacity="0.8"/>
<circle cx="120.8" cy="684.0" r="25.0" fill="url(#rg34)" stroke="#a2b1a2" stroke-width="0.8" stroke-opacity="0.6"/>
<circle cx="181.8" cy="683.8" r="30.2" fill="#e7ece9" stroke="#c7cdc9" stroke-width="0.8"/>
<circle cx="181.2" cy="683.7" r="27.8" fill="#2a7024"/>
<circle cx="181.2" cy="683.7" r="28.7" fill="none" stroke="#f4f7f5" stroke-width="1.4" stroke-opacity="0.8"/>
<circle cx="182.6" cy="684.0" r="25.0" fill="url(#rg35)" stroke="#276721" stroke-width="0.8" stroke-opacity="0.6"/>
<circle cx="245.8" cy="683.8" r="30.2" fill="#e7ece9" stroke="#c7cdc9" stroke-width="0.8"/>
<circle cx="245.7" cy="683.7" r="27.8" fill="#3a8030"/>
<circle cx="245.7" cy="683.7" r="28.7" fill="none" stroke="#f4f7f5" stroke-width="1.4" stroke-opacity="0.8"/>
<circle cx="246.0" cy="684.0" r="25.0" fill="url(#rg36)" stroke="#35762c" stroke-width="0.8" stroke-opacity="0.6"/>
<circle cx="310.7" cy="683.8" r="30.2" fill="#e7ece9" stroke="#c7cdc9" stroke-width="0.8"/>
<circle cx="311.0" cy="683.7" r="27.8" fill="#3a8232"/>
<circle cx="311.0" cy="683.7" r="28.7" fill="none" stroke="#f4f7f5" stroke-width="1.4" stroke-opacity="0.8"/>
<circle cx="310.2" cy="684.0" r="25.0" fill="url(#rg37)" stroke="#35782e" stroke-width="0.8" stroke-opacity="0.6"/>
<circle cx="375.1" cy="683.8" r="30.2" fill="#e7ece9" stroke="#c7cdc9" stroke-width="0.8"/>
<circle cx="375.9" cy="683.7" r="27.8" fill="#428e38"/>
<circle cx="375.9" cy="683.7" r="28.7" fill="none" stroke="#f4f7f5" stroke-width="1.4" stroke-opacity="0.8"/>
<circle cx="374.0" cy="684.0" r="25.0" fill="url(#rg38)" stroke="#3d8334" stroke-width="0.8" stroke-opacity="0.6"/>
<circle cx="438.1" cy="683.8" r="30.2" fill="#e7ece9" stroke="#c7cdc9" stroke-width="0.8"/>
<circle cx="439.3" cy="683.7" r="27.8" fill="#46903c"/>
<circle cx="439.3" cy="683.7" r="28.7" fill="none" stroke="#f4f7f5" stroke-width="1.4" stroke-opacity="0.8"/>
<circle cx="436.3" cy="684.0" r="25.0" fill="url(#rg39)" stroke="#408437" stroke-width="0.8" stroke-opacity="0.6"/>
</g>
<g clip-path="url(#clip7)">
<rect x="471.4" y="650.2" width="309.30" height="64.90" fill="#dde4e0"/>
<rect x="532.9" y="650.2" width="3.6" height="64.90" fill="#d0d6d3"/>
<rect x="595.0" y="650.2" width="3.6" height="64.90" fill="#d0d6d3"/>
<rect x="657.0" y="650.2" width="3.6" height="64.90" fill="#d0d6d3"/>
<rect x="719.1" y="650.2" width="3.6" height="64.90" fill="#d0d6d3"/>
<circle cx="502.4" cy="682.8" r="30.0" fill="#e7ece9" stroke="#c7cdca" stroke-width="0.8"/>
<circle cx="501.8" cy="682.7" r="27.3" fill="#9cbc98"/>
<circle cx="501.8" cy="682.7" r="28.2" fill="none" stroke="#f4f7f5" stroke-width="1.4" stroke-opacity="0.8"/>
<circle cx="503.3" cy="683.0" r="24.5" fill="url(#rg40)" stroke="#90ad8c" stroke-width="0.8" stroke-opacity="0.6"/>
<circle cx="565.7" cy="682.8" r="30.0" fill="#e7ece9" stroke="#c7cdca" stroke-width="0.8"/>
<circle cx="565.5" cy="682.7" r="27.3" fill="#7aac76"/>
<circle cx="565.5" cy="682.7" r="28.2" fill="none" stroke="#f4f7f5" stroke-width="1.4" stroke-opacity="0.8"/>
<circle cx="566.0" cy="683.0" r="24.5" fill="url(#rg41)" stroke="#709e6d" stroke-width="0.8" stroke-opacity="0.6"/>
<circle cx="627.8" cy="682.8" r="30.0" fill="#e7ece9" stroke="#c7cdca" stroke-width="0.8"/>
<circle cx="628.0" cy="682.7" r="27.3" fill="#6cae64"/>
<circle cx="628.0" cy="682.7" r="28.2" fill="none" stroke="#f4f7f5" stroke-width="1.4" stroke-opacity="0.8"/>
<circle cx="627.5" cy="683.0" r="24.5" fill="url(#rg42)" stroke="#63a05c" stroke-width="0.8" stroke-opacity="0.6"/>
<circle cx="690.9" cy="682.8" r="30.0" fill="#e7ece9" stroke="#c7cdca" stroke-width="0.8"/>
<circle cx="691.5" cy="682.7" r="27.3" fill="#62a45a"/>
<circle cx="691.5" cy="682.7" r="28.2" fill="none" stroke="#f4f7f5" stroke-width="1.4" stroke-opacity="0.8"/>
<circle cx="690.0" cy="683.0" r="24.5" fill="url(#rg43)" stroke="#5a9753" stroke-width="0.8" stroke-opacity="0.6"/>
<circle cx="753.2" cy="682.8" r="30.0" fill="#e7ece9" stroke="#c7cdca" stroke-width="0.8"/>
<circle cx="754.2" cy="682.7" r="27.3" fill="#9cc890"/>
<circle cx="754.2" cy="682.7" r="28.2" fill="none" stroke="#f4f7f5" stroke-width="1.4" stroke-opacity="0.8"/>
<circle cx="751.7" cy="683.0" r="24.5" fill="url(#rg44)" stroke="#90b884" stroke-width="0.8" stroke-opacity="0.6"/>
</g>
<g clip-path="url(#clip8)">
<rect x="88" y="720.3" width="379.70" height="64.60" fill="#d6ddd8"/>
<rect x="149.7" y="720.3" width="3.6" height="64.60" fill="#c9d0cb"/>
<rect x="213.7" y="720.3" width="3.6" height="64.60" fill="#c9d0cb"/>
<rect x="277.9" y="720.3" width="3.6" height="64.60" fill="#c9d0cb"/>
<rect x="341.4" y="720.3" width="3.6" height="64.60" fill="#c9d0cb"/>
<rect x="404.2" y="720.3" width="3.6" height="64.60" fill="#c9d0cb"/>
<circle cx="118.9" cy="753.1" r="29.8" fill="#e2e7e4" stroke="#c1c7c2" stroke-width="0.8"/>
<circle cx="118.5" cy="753.0" r="27.3" fill="#3cb24e"/>
<circle cx="118.5" cy="753.0" r="28.2" fill="none" stroke="#f4f7f5" stroke-width="1.4" stroke-opacity="0.8"/>
<circle cx="119.5" cy="753.3" r="24.0" fill="url(#rg45)" stroke="#37a448" stroke-width="0.8" stroke-opacity="0.6"/>
<circle cx="183.4" cy="753.1" r="29.8" fill="#e2e7e4" stroke="#c1c7c2" stroke-width="0.8"/>
<circle cx="183.3" cy="753.0" r="27.3" fill="#34a846"/>
<circle cx="183.3" cy="753.0" r="28.2" fill="none" stroke="#f4f7f5" stroke-width="1.4" stroke-opacity="0.8"/>
<circle cx="183.5" cy="753.3" r="24.0" fill="url(#rg46)" stroke="#309b40" stroke-width="0.8" stroke-opacity="0.6"/>
<circle cx="247.9" cy="753.1" r="29.8" fill="#e2e7e4" stroke="#c1c7c2" stroke-width="0.8"/>
<circle cx="248.1" cy="753.0" r="27.3" fill="#3eb250"/>
<circle cx="248.1" cy="753.0" r="28.2" fill="none" stroke="#f4f7f5" stroke-width="1.4" stroke-opacity="0.8"/>
<circle cx="247.5" cy="753.3" r="24.0" fill="url(#rg47)" stroke="#39a44a" stroke-width="0.8" stroke-opacity="0.6"/>
<circle cx="312.8" cy="753.1" r="29.8" fill="#e2e7e4" stroke="#c1c7c2" stroke-width="0.8"/>
<circle cx="313.4" cy="753.0" r="27.3" fill="#24a036"/>
<circle cx="313.4" cy="753.0" r="28.2" fill="none" stroke="#f4f7f5" stroke-width="1.4" stroke-opacity="0.8"/>
<circle cx="312.0" cy="753.3" r="24.0" fill="url(#rg48)" stroke="#219332" stroke-width="0.8" stroke-opacity="0.6"/>
<circle cx="375.8" cy="753.1" r="29.8" fill="#e2e7e4" stroke="#c1c7c2" stroke-width="0.8"/>
<circle cx="376.7" cy="753.0" r="27.3" fill="#5cb866"/>
<circle cx="376.7" cy="753.0" r="28.2" fill="none" stroke="#f4f7f5" stroke-width="1.4" stroke-opacity="0.8"/>
<circle cx="374.5" cy="753.3" r="24.0" fill="url(#rg49)" stroke="#55a95e" stroke-width="0.8" stroke-opacity="0.6"/>
<circle cx="439.3" cy="753.1" r="29.8" fill="#e2e7e4" stroke="#c1c7c2" stroke-width="0.8"/>
<circle cx="440.5" cy="753.0" r="27.3" fill="#4cb65c"/>
<circle cx="440.5" cy="753.0" r="28.2" fill="none" stroke="#f4f7f5" stroke-width="1.4" stroke-opacity="0.8"/>
<circle cx="437.5" cy="753.3" r="24.0" fill="url(#rg50)" stroke="#46a755" stroke-width="0.8" stroke-opacity="0.6"/>
</g>
<g clip-path="url(#clip9)">
<rect x="471.4" y="720.5" width="309.30" height="64.60" fill="#d2dad4"/>
<rect x="530.2" y="720.5" width="3.6" height="64.60" fill="#c5cdc7"/>
<rect x="592.5" y="720.5" width="3.6" height="64.60" fill="#c5cdc7"/>
<rect x="653.7" y="720.5" width="3.6" height="64.60" fill="#c5cdc7"/>
<rect x="715.5" y="720.5" width="3.6" height="64.60" fill="#c5cdc7"/>
<circle cx="499.3" cy="753.8" r="30.0" fill="#e0e5e1" stroke="#bdc4bf" stroke-width="0.8"/>
<circle cx="498.5" cy="754.8" r="26.8" fill="#62ba6c"/>
<circle cx="498.5" cy="754.8" r="27.7" fill="none" stroke="#f4f7f5" stroke-width="1.4" stroke-opacity="0.8"/>
<circle cx="500.5" cy="752.3" r="23.0" fill="url(#rg51)" stroke="#5aab63" stroke-width="0.8" stroke-opacity="0.6"/>
<circle cx="563.1" cy="753.8" r="30.0" fill="#e0e5e1" stroke="#bdc4bf" stroke-width="0.8"/>
<circle cx="562.9" cy="754.8" r="26.8" fill="#8cc692"/>
<circle cx="562.9" cy="754.8" r="27.7" fill="none" stroke="#f4f7f5" stroke-width="1.4" stroke-opacity="0.8"/>
<circle cx="563.5" cy="752.3" r="23.0" fill="url(#rg52)" stroke="#81b686" stroke-width="0.8" stroke-opacity="0.6"/>
<circle cx="625.5" cy="753.8" r="30.0" fill="#e0e5e1" stroke="#bdc4bf" stroke-width="0.8"/>
<circle cx="625.8" cy="754.8" r="26.8" fill="#a0cea4"/>
<circle cx="625.8" cy="754.8" r="27.7" fill="none" stroke="#f4f7f5" stroke-width="1.4" stroke-opacity="0.8"/>
<circle cx="625.0" cy="752.3" r="23.0" fill="url(#rg53)" stroke="#93be97" stroke-width="0.8" stroke-opacity="0.6"/>
<circle cx="687.3" cy="753.8" r="30.0" fill="#e0e5e1" stroke="#bdc4bf" stroke-width="0.8"/>
<circle cx="688.1" cy="754.8" r="26.8" fill="#a4d0a6"/>
<circle cx="688.1" cy="754.8" r="27.7" fill="none" stroke="#f4f7f5" stroke-width="1.4" stroke-opacity="0.8"/>
<circle cx="686.0" cy="752.3" r="23.0" fill="url(#rg54)" stroke="#97bf99" stroke-width="0.8" stroke-opacity="0.6"/>
<circle cx="750.6" cy="753.8" r="30.0" fill="#e0e5e1" stroke="#bdc4bf" stroke-width="0.8"/>
<circle cx="752.0" cy="754.8" r="26.8" fill="#bad8bc"/>
<circle cx="752.0" cy="754.8" r="27.7" fill="none" stroke="#f4f7f5" stroke-width="1.4" stroke-opacity="0.8"/>
<circle cx="748.5" cy="752.3" r="23.0" fill="url(#rg55)" stroke="#abc7ad" stroke-width="0.8" stroke-opacity="0.6"/>
</g>
<g clip-path="url(#clip10)">
<rect x="88" y="788.5" width="379.70" height="64.90" fill="#d4dcd6"/>
<rect x="150.4" y="788.5" width="3.6" height="64.90" fill="#c7cfc9"/>
<rect x="214.2" y="788.5" width="3.6" height="64.90" fill="#c7cfc9"/>
<rect x="278.4" y="788.5" width="3.6" height="64.90" fill="#c7cfc9"/>
<rect x="341.9" y="788.5" width="3.6" height="64.90" fill="#c7cfc9"/>
<rect x="404.4" y="788.5" width="3.6" height="64.90" fill="#c7cfc9"/>
<circle cx="118.7" cy="819.8" r="30.0" fill="#e1e6e2" stroke="#bfc6c1" stroke-width="0.8"/>
<circle cx="117.5" cy="819.7" r="27.0" fill="#52b462"/>
<circle cx="117.5" cy="819.7" r="27.9" fill="none" stroke="#f4f7f5" stroke-width="1.4" stroke-opacity="0.8"/>
<circle cx="120.5" cy="820.0" r="23.5" fill="url(#rg56)" stroke="#4ba65a" stroke-width="0.8" stroke-opacity="0.6"/>
<circle cx="182.9" cy="819.8" r="30.0" fill="#e1e6e2" stroke="#bfc6c1" stroke-width="0.8"/>
<circle cx="182.2" cy="819.7" r="27.0" fill="#4eb05e"/>
<circle cx="182.2" cy="819.7" r="27.9" fill="none" stroke="#f4f7f5" stroke-width="1.4" stroke-opacity="0.8"/>
<circle cx="184.0" cy="820.0" r="23.5" fill="url(#rg57)" stroke="#48a256" stroke-width="0.8" stroke-opacity="0.6"/>
<circle cx="247.6" cy="819.8" r="30.0" fill="#e1e6e2" stroke="#bfc6c1" stroke-width="0.8"/>
<circle cx="247.4" cy="819.7" r="27.0" fill="#52b260"/>
<circle cx="247.4" cy="819.7" r="27.9" fill="none" stroke="#f4f7f5" stroke-width="1.4" stroke-opacity="0.8"/>
<circle cx="248.0" cy="820.0" r="23.5" fill="url(#rg58)" stroke="#4ba458" stroke-width="0.8" stroke-opacity="0.6"/>
<circle cx="312.9" cy="819.8" r="30.0" fill="#e1e6e2" stroke="#bfc6c1" stroke-width="0.8"/>
<circle cx="313.1" cy="819.7" r="27.0" fill="#4cae5a"/>
<circle cx="313.1" cy="819.7" r="27.9" fill="none" stroke="#f4f7f5" stroke-width="1.4" stroke-opacity="0.8"/>
<circle cx="312.5" cy="820.0" r="23.5" fill="url(#rg59)" stroke="#46a053" stroke-width="0.8" stroke-opacity="0.6"/>
<circle cx="376.1" cy="819.8" r="30.0" fill="#e1e6e2" stroke="#bfc6c1" stroke-width="0.8"/>
<circle cx="376.8" cy="819.7" r="27.0" fill="#6cba70"/>
<circle cx="376.8" cy="819.7" r="27.9" fill="none" stroke="#f4f7f5" stroke-width="1.4" stroke-opacity="0.8"/>
<circle cx="375.0" cy="820.0" r="23.5" fill="url(#rg60)" stroke="#63ab67" stroke-width="0.8" stroke-opacity="0.6"/>
<circle cx="439.3" cy="819.8" r="30.0" fill="#e1e6e2" stroke="#bfc6c1" stroke-width="0.8"/>
<circle cx="440.5" cy="819.7" r="27.0" fill="#bcdaba"/>
<circle cx="440.5" cy="819.7" r="27.9" fill="none" stroke="#f4f7f5" stroke-width="1.4" stroke-opacity="0.8"/>
<circle cx="437.5" cy="820.0" r="23.5" fill="url(#rg61)" stroke="#adc9ab" stroke-width="0.8" stroke-opacity="0.6"/>
</g>
<g clip-path="url(#clip11)">
<rect x="471.4" y="788.5" width="309.30" height="64.90" fill="#d2dad4"/>
<rect x="530.2" y="788.5" width="3.6" height="64.90" fill="#c5cdc7"/>
<rect x="592.5" y="788.5" width="3.6" height="64.90" fill="#c5cdc7"/>
<rect x="653.7" y="788.5" width="3.6" height="64.90" fill="#c5cdc7"/>
<rect x="715.5" y="788.5" width="3.6" height="64.90" fill="#c5cdc7"/>
<circle cx="499.3" cy="821.2" r="30.0" fill="#e0e5e1" stroke="#bdc4bf" stroke-width="0.8"/>
<circle cx="498.5" cy="822.0" r="27.0" fill="#6aba72"/>
<circle cx="498.5" cy="822.0" r="27.9" fill="none" stroke="#f4f7f5" stroke-width="1.4" stroke-opacity="0.8"/>
<circle cx="500.5" cy="820.0" r="23.0" fill="url(#rg62)" stroke="#62ab69" stroke-width="0.8" stroke-opacity="0.6"/>
<circle cx="563.0" cy="821.2" r="30.0" fill="#e0e5e1" stroke="#bdc4bf" stroke-width="0.8"/>
<circle cx="562.8" cy="822.0" r="27.0" fill="#8cc88e"/>
<circle cx="562.8" cy="822.0" r="27.9" fill="none" stroke="#f4f7f5" stroke-width="1.4" stroke-opacity="0.8"/>
<circle cx="563.5" cy="820.0" r="23.0" fill="url(#rg63)" stroke="#81b883" stroke-width="0.8" stroke-opacity="0.6"/>
<circle cx="625.3" cy="821.2" r="30.0" fill="#e0e5e1" stroke="#bdc4bf" stroke-width="0.8"/>
<circle cx="625.5" cy="822.0" r="27.0" fill="#9acc98"/>
<circle cx="625.5" cy="822.0" r="27.9" fill="none" stroke="#f4f7f5" stroke-width="1.4" stroke-opacity="0.8"/>
<circle cx="625.0" cy="820.0" r="23.0" fill="url(#rg64)" stroke="#8ebc8c" stroke-width="0.8" stroke-opacity="0.6"/>
<circle cx="687.0" cy="821.2" r="30.0" fill="#e0e5e1" stroke="#bdc4bf" stroke-width="0.8"/>
<circle cx="687.8" cy="822.0" r="27.0" fill="#90c892"/>
<circle cx="687.8" cy="822.0" r="27.9" fill="none" stroke="#f4f7f5" stroke-width="1.4" stroke-opacity="0.8"/>
<circle cx="686.0" cy="820.0" r="23.0" fill="url(#rg65)" stroke="#84b886" stroke-width="0.8" stroke-opacity="0.6"/>
<circle cx="750.3" cy="821.2" r="30.0" fill="#e0e5e1" stroke="#bdc4bf" stroke-width="0.8"/>
<circle cx="751.5" cy="822.0" r="27.0" fill="#a4d0a4"/>
<circle cx="751.5" cy="822.0" r="27.9" fill="none" stroke="#f4f7f5" stroke-width="1.4" stroke-opacity="0.8"/>
<circle cx="748.5" cy="820.0" r="23.0" fill="url(#rg66)" stroke="#97bf97" stroke-width="0.8" stroke-opacity="0.6"/>
</g><line x1="91.0" y1="478.25" x2="783.0" y2="478.25" stroke="#9a9a9a" stroke-width="1.35"/>
<line x1="91.0" y1="438.50" x2="783.0" y2="438.50" stroke="#9a9a9a" stroke-width="1.35"/>
<line x1="91.0" y1="398.75" x2="783.0" y2="398.75" stroke="#9a9a9a" stroke-width="1.35"/>
<line x1="91.0" y1="359.00" x2="783.0" y2="359.00" stroke="#9a9a9a" stroke-width="1.35"/>
<line x1="91.0" y1="319.25" x2="783.0" y2="319.25" stroke="#9a9a9a" stroke-width="1.35"/>
<line x1="91.0" y1="279.50" x2="783.0" y2="279.50" stroke="#9a9a9a" stroke-width="1.35"/>
<rect x="689" y="296" width="80" height="78" fill="#fff" fill-opacity="0.82"/>
<line x1="83" y1="518.00" x2="91.0" y2="518.00" stroke="#8c8c8c" stroke-width="1.6"/>
<line x1="83" y1="478.25" x2="91.0" y2="478.25" stroke="#8c8c8c" stroke-width="1.6"/>
<line x1="83" y1="438.50" x2="91.0" y2="438.50" stroke="#8c8c8c" stroke-width="1.6"/>
<line x1="83" y1="398.75" x2="91.0" y2="398.75" stroke="#8c8c8c" stroke-width="1.6"/>
<line x1="83" y1="359.00" x2="91.0" y2="359.00" stroke="#8c8c8c" stroke-width="1.6"/>
<line x1="83" y1="319.25" x2="91.0" y2="319.25" stroke="#8c8c8c" stroke-width="1.6"/>
<line x1="83" y1="279.50" x2="91.0" y2="279.50" stroke="#8c8c8c" stroke-width="1.6"/>
<line x1="91.00" y1="518.0" x2="91.00" y2="523.0" stroke="#8c8c8c" stroke-width="1.6"/>
<line x1="153.91" y1="518.0" x2="153.91" y2="523.0" stroke="#8c8c8c" stroke-width="1.6"/>
<line x1="216.82" y1="518.0" x2="216.82" y2="523.0" stroke="#8c8c8c" stroke-width="1.6"/>
<line x1="279.73" y1="518.0" x2="279.73" y2="523.0" stroke="#8c8c8c" stroke-width="1.6"/>
<line x1="342.64" y1="518.0" x2="342.64" y2="523.0" stroke="#8c8c8c" stroke-width="1.6"/>
<line x1="405.55" y1="518.0" x2="405.55" y2="523.0" stroke="#8c8c8c" stroke-width="1.6"/>
<line x1="468.45" y1="518.0" x2="468.45" y2="523.0" stroke="#8c8c8c" stroke-width="1.6"/>
<line x1="531.36" y1="518.0" x2="531.36" y2="523.0" stroke="#8c8c8c" stroke-width="1.6"/>
<line x1="594.27" y1="518.0" x2="594.27" y2="523.0" stroke="#8c8c8c" stroke-width="1.6"/>
<line x1="657.18" y1="518.0" x2="657.18" y2="523.0" stroke="#8c8c8c" stroke-width="1.6"/>
<line x1="720.09" y1="518.0" x2="720.09" y2="523.0" stroke="#8c8c8c" stroke-width="1.6"/>
<line x1="783.00" y1="518.0" x2="783.00" y2="523.0" stroke="#8c8c8c" stroke-width="1.6"/>
<line x1="91.0" y1="278.7" x2="91.0" y2="523.0" stroke="#8c8c8c" stroke-width="1.8"/>
<line x1="783.0" y1="278.7" x2="783.0" y2="523.0" stroke="#8c8c8c" stroke-width="1.8"/>
<rect x="101.30" y="388.81" width="14.1" height="129.19" fill="#2010D0"/>
<rect x="115.40" y="418.23" width="14.1" height="99.77" fill="#FFBE00"/>
<rect x="129.50" y="403.12" width="14.1" height="114.88" fill="#00A040"/>
<line x1="108.35" y1="388.81" x2="108.35" y2="380.07" stroke="#1a1a1a" stroke-width="1.6"/>
<line x1="102.75" y1="380.07" x2="113.95" y2="380.07" stroke="#1a1a1a" stroke-width="1.6"/>
<line x1="122.45" y1="418.23" x2="122.45" y2="408.29" stroke="#1a1a1a" stroke-width="1.6"/>
<line x1="116.85" y1="408.29" x2="128.05" y2="408.29" stroke="#1a1a1a" stroke-width="1.6"/>
<line x1="136.55" y1="403.12" x2="136.55" y2="395.37" stroke="#1a1a1a" stroke-width="1.6"/>
<line x1="130.95" y1="395.37" x2="142.15" y2="395.37" stroke="#1a1a1a" stroke-width="1.6"/>
<rect x="164.21" y="371.92" width="14.1" height="146.08" fill="#2010D0"/>
<rect x="178.31" y="355.22" width="14.1" height="162.78" fill="#FFBE00"/>
<rect x="192.41" y="410.68" width="14.1" height="107.32" fill="#00A040"/>
<line x1="171.26" y1="371.92" x2="171.26" y2="369.73" stroke="#1a1a1a" stroke-width="1.6"/>
<line x1="165.66" y1="369.73" x2="176.86" y2="369.73" stroke="#1a1a1a" stroke-width="1.6"/>
<line x1="185.36" y1="355.22" x2="185.36" y2="341.11" stroke="#1a1a1a" stroke-width="1.6"/>
<line x1="179.76" y1="341.11" x2="190.96" y2="341.11" stroke="#1a1a1a" stroke-width="1.6"/>
<line x1="199.46" y1="410.68" x2="199.46" y2="408.69" stroke="#1a1a1a" stroke-width="1.6"/>
<line x1="193.86" y1="408.69" x2="205.06" y2="408.69" stroke="#1a1a1a" stroke-width="1.6"/>
<rect x="227.12" y="380.47" width="14.1" height="137.53" fill="#2010D0"/>
<rect x="241.22" y="357.41" width="14.1" height="160.59" fill="#FFBE00"/>
<rect x="255.32" y="414.85" width="14.1" height="103.15" fill="#00A040"/>
<line x1="234.17" y1="380.47" x2="234.17" y2="377.28" stroke="#1a1a1a" stroke-width="1.6"/>
<line x1="228.57" y1="377.28" x2="239.77" y2="377.28" stroke="#1a1a1a" stroke-width="1.6"/>
<line x1="248.27" y1="357.41" x2="248.27" y2="331.17" stroke="#1a1a1a" stroke-width="1.6"/>
<line x1="242.67" y1="331.17" x2="253.87" y2="331.17" stroke="#1a1a1a" stroke-width="1.6"/>
<line x1="262.37" y1="414.85" x2="262.37" y2="409.68" stroke="#1a1a1a" stroke-width="1.6"/>
<line x1="256.77" y1="409.68" x2="267.97" y2="409.68" stroke="#1a1a1a" stroke-width="1.6"/>
<rect x="290.03" y="406.70" width="14.1" height="111.30" fill="#2010D0"/>
<rect x="304.13" y="359.99" width="14.1" height="158.01" fill="#FFBE00"/>
<rect x="318.23" y="419.42" width="14.1" height="98.58" fill="#00A040"/>
<line x1="297.08" y1="406.70" x2="297.08" y2="404.12" stroke="#1a1a1a" stroke-width="1.6"/>
<line x1="291.48" y1="404.12" x2="302.68" y2="404.12" stroke="#1a1a1a" stroke-width="1.6"/>
<line x1="311.18" y1="359.99" x2="311.18" y2="335.94" stroke="#1a1a1a" stroke-width="1.6"/>
<line x1="305.58" y1="335.94" x2="316.78" y2="335.94" stroke="#1a1a1a" stroke-width="1.6"/>
<line x1="325.28" y1="419.42" x2="325.28" y2="405.31" stroke="#1a1a1a" stroke-width="1.6"/>
<line x1="319.68" y1="405.31" x2="330.88" y2="405.31" stroke="#1a1a1a" stroke-width="1.6"/>
<rect x="352.94" y="488.39" width="14.1" height="29.61" fill="#2010D0"/>
<rect x="367.04" y="392.19" width="14.1" height="125.81" fill="#FFBE00"/>
<rect x="381.14" y="432.34" width="14.1" height="85.66" fill="#00A040"/>
<line x1="359.99" y1="488.39" x2="359.99" y2="460.36" stroke="#1a1a1a" stroke-width="1.6"/>
<line x1="354.39" y1="460.36" x2="365.59" y2="460.36" stroke="#1a1a1a" stroke-width="1.6"/>
<line x1="374.09" y1="392.19" x2="374.09" y2="370.13" stroke="#1a1a1a" stroke-width="1.6"/>
<line x1="368.49" y1="370.13" x2="379.69" y2="370.13" stroke="#1a1a1a" stroke-width="1.6"/>
<line x1="388.19" y1="432.34" x2="388.19" y2="407.50" stroke="#1a1a1a" stroke-width="1.6"/>
<line x1="382.59" y1="407.50" x2="393.79" y2="407.50" stroke="#1a1a1a" stroke-width="1.6"/>
<rect x="415.85" y="516.61" width="14.1" height="1.39" fill="#2010D0"/>
<rect x="429.95" y="399.94" width="14.1" height="118.06" fill="#FFBE00"/>
<rect x="444.05" y="496.54" width="14.1" height="21.46" fill="#00A040"/>
<line x1="422.90" y1="516.61" x2="422.90" y2="516.21" stroke="#1a1a1a" stroke-width="1.6"/>
<line x1="417.30" y1="516.21" x2="428.50" y2="516.21" stroke="#1a1a1a" stroke-width="1.6"/>
<line x1="437.00" y1="399.94" x2="437.00" y2="366.35" stroke="#1a1a1a" stroke-width="1.6"/>
<line x1="431.40" y1="366.35" x2="442.60" y2="366.35" stroke="#1a1a1a" stroke-width="1.6"/>
<line x1="451.10" y1="496.54" x2="451.10" y2="492.36" stroke="#1a1a1a" stroke-width="1.6"/>
<line x1="445.50" y1="492.36" x2="456.70" y2="492.36" stroke="#1a1a1a" stroke-width="1.6"/>
<rect x="492.86" y="435.32" width="14.1" height="82.68" fill="#FFBE00"/>
<rect x="506.96" y="465.13" width="14.1" height="52.87" fill="#00A040"/>
<line x1="499.91" y1="435.32" x2="499.91" y2="405.51" stroke="#1a1a1a" stroke-width="1.6"/>
<line x1="494.31" y1="405.51" x2="505.51" y2="405.51" stroke="#1a1a1a" stroke-width="1.6"/>
<line x1="514.01" y1="465.13" x2="514.01" y2="451.82" stroke="#1a1a1a" stroke-width="1.6"/>
<line x1="508.41" y1="451.82" x2="519.61" y2="451.82" stroke="#1a1a1a" stroke-width="1.6"/>
<rect x="555.77" y="470.70" width="14.1" height="47.30" fill="#FFBE00"/>
<rect x="569.87" y="478.45" width="14.1" height="39.55" fill="#00A040"/>
<line x1="562.82" y1="470.70" x2="562.82" y2="456.98" stroke="#1a1a1a" stroke-width="1.6"/>
<line x1="557.22" y1="456.98" x2="568.42" y2="456.98" stroke="#1a1a1a" stroke-width="1.6"/>
<line x1="576.92" y1="478.45" x2="576.92" y2="466.52" stroke="#1a1a1a" stroke-width="1.6"/>
<line x1="571.32" y1="466.52" x2="582.52" y2="466.52" stroke="#1a1a1a" stroke-width="1.6"/>
<rect x="618.68" y="507.07" width="14.1" height="10.93" fill="#FFBE00"/>
<rect x="632.78" y="491.96" width="14.1" height="26.04" fill="#00A040"/>
<line x1="625.73" y1="507.07" x2="625.73" y2="502.70" stroke="#1a1a1a" stroke-width="1.6"/>
<line x1="620.13" y1="502.70" x2="631.33" y2="502.70" stroke="#1a1a1a" stroke-width="1.6"/>
<line x1="639.83" y1="491.96" x2="639.83" y2="479.05" stroke="#1a1a1a" stroke-width="1.6"/>
<line x1="634.23" y1="479.05" x2="645.43" y2="479.05" stroke="#1a1a1a" stroke-width="1.6"/>
<rect x="681.59" y="514.42" width="14.1" height="3.58" fill="#FFBE00"/>
<rect x="695.69" y="501.11" width="14.1" height="16.89" fill="#00A040"/>
<line x1="688.64" y1="514.42" x2="688.64" y2="510.45" stroke="#1a1a1a" stroke-width="1.6"/>
<line x1="683.04" y1="510.45" x2="694.24" y2="510.45" stroke="#1a1a1a" stroke-width="1.6"/>
<line x1="702.74" y1="501.11" x2="702.74" y2="484.81" stroke="#1a1a1a" stroke-width="1.6"/>
<line x1="697.14" y1="484.81" x2="708.34" y2="484.81" stroke="#1a1a1a" stroke-width="1.6"/>
<rect x="744.50" y="516.21" width="14.1" height="1.79" fill="#FFBE00"/>
<rect x="758.60" y="513.23" width="14.1" height="4.77" fill="#00A040"/>
<line x1="751.55" y1="516.21" x2="751.55" y2="514.82" stroke="#1a1a1a" stroke-width="1.6"/>
<line x1="745.95" y1="514.82" x2="757.15" y2="514.82" stroke="#1a1a1a" stroke-width="1.6"/>
<line x1="765.65" y1="513.23" x2="765.65" y2="505.88" stroke="#1a1a1a" stroke-width="1.6"/>
<line x1="760.05" y1="505.88" x2="771.25" y2="505.88" stroke="#1a1a1a" stroke-width="1.6"/>
<line x1="91.0" y1="518.0" x2="783.0" y2="518.0" stroke="#8c8c8c" stroke-width="1.6"/>
<text x="75.6" y="523.60" text-anchor="end" font-size="21">0</text>
<text x="75.6" y="483.85" text-anchor="end" font-size="21">2</text>
<text x="75.6" y="444.10" text-anchor="end" font-size="21">4</text>
<text x="75.6" y="404.35" text-anchor="end" font-size="21">6</text>
<text x="75.6" y="364.60" text-anchor="end" font-size="21">8</text>
<text x="75.6" y="324.85" text-anchor="end" font-size="21">10</text>
<text x="75.6" y="285.10" text-anchor="end" font-size="21">12</text>
<text x="120.50" y="548.30" text-anchor="middle" font-size="20.8">0</text>
<text x="179.30" y="548.30" text-anchor="middle" font-size="20.8">100</text>
<text x="248.00" y="548.30" text-anchor="middle" font-size="20.8">200</text>
<text x="312.10" y="548.30" text-anchor="middle" font-size="20.8">300</text>
<text x="376.00" y="548.30" text-anchor="middle" font-size="20.8">400</text>
<text x="440.50" y="548.30" text-anchor="middle" font-size="20.8">500</text>
<text x="504.20" y="548.30" text-anchor="middle" font-size="20.8">600</text>
<text x="562.50" y="548.30" text-anchor="middle" font-size="20.8">700</text>
<text x="626.40" y="548.30" text-anchor="middle" font-size="20.8">800</text>
<text x="690.20" y="548.30" text-anchor="middle" font-size="20.8">900</text>
<text x="754.70" y="548.30" text-anchor="middle" font-size="20.8">1000</text>
<text x="381" y="577.5" font-size="20.9">NaCl (mM)</text>
<text transform="translate(41.0 415.6) rotate(-90)" font-size="20.5">OD<tspan font-size="12.5" dy="7.4">750</tspan></text>
<text x="99.8" y="304.9" font-size="20.8">OD<tspan font-size="13" dy="7.3">750</tspan><tspan dy="-7.3">=0.1 start, 7 d</tspan></text>
<rect x="701.5" y="303.00" width="15.5" height="15.6" fill="#4010D0"/>
<text x="728.8" y="317.60" font-size="18">Cm</text>
<rect x="701.5" y="329.10" width="15.5" height="15.6" fill="#FFBE00"/>
<text x="728.8" y="343.70" font-size="18">Cc</text>
<rect x="701.5" y="355.20" width="15.5" height="15.6" fill="#00A040"/>
<text x="728.8" y="369.80" font-size="18">Gs</text><line x1="91.0" y1="1079.75" x2="783.0" y2="1079.75" stroke="#9a9a9a" stroke-width="1.35"/>
<line x1="91.0" y1="1040.00" x2="783.0" y2="1040.00" stroke="#9a9a9a" stroke-width="1.35"/>
<line x1="91.0" y1="1000.25" x2="783.0" y2="1000.25" stroke="#9a9a9a" stroke-width="1.35"/>
<line x1="91.0" y1="960.50" x2="783.0" y2="960.50" stroke="#9a9a9a" stroke-width="1.35"/>
<line x1="91.0" y1="920.75" x2="783.0" y2="920.75" stroke="#9a9a9a" stroke-width="1.35"/>
<line x1="91.0" y1="881.00" x2="783.0" y2="881.00" stroke="#9a9a9a" stroke-width="1.35"/>
<rect x="689" y="897.5" width="80" height="78" fill="#fff" fill-opacity="0.82"/>
<line x1="83" y1="1119.50" x2="91.0" y2="1119.50" stroke="#8c8c8c" stroke-width="1.6"/>
<line x1="83" y1="1079.75" x2="91.0" y2="1079.75" stroke="#8c8c8c" stroke-width="1.6"/>
<line x1="83" y1="1040.00" x2="91.0" y2="1040.00" stroke="#8c8c8c" stroke-width="1.6"/>
<line x1="83" y1="1000.25" x2="91.0" y2="1000.25" stroke="#8c8c8c" stroke-width="1.6"/>
<line x1="83" y1="960.50" x2="91.0" y2="960.50" stroke="#8c8c8c" stroke-width="1.6"/>
<line x1="83" y1="920.75" x2="91.0" y2="920.75" stroke="#8c8c8c" stroke-width="1.6"/>
<line x1="83" y1="881.00" x2="91.0" y2="881.00" stroke="#8c8c8c" stroke-width="1.6"/>
<line x1="91.00" y1="1119.5" x2="91.00" y2="1124.5" stroke="#8c8c8c" stroke-width="1.6"/>
<line x1="153.91" y1="1119.5" x2="153.91" y2="1124.5" stroke="#8c8c8c" stroke-width="1.6"/>
<line x1="216.82" y1="1119.5" x2="216.82" y2="1124.5" stroke="#8c8c8c" stroke-width="1.6"/>
<line x1="279.73" y1="1119.5" x2="279.73" y2="1124.5" stroke="#8c8c8c" stroke-width="1.6"/>
<line x1="342.64" y1="1119.5" x2="342.64" y2="1124.5" stroke="#8c8c8c" stroke-width="1.6"/>
<line x1="405.55" y1="1119.5" x2="405.55" y2="1124.5" stroke="#8c8c8c" stroke-width="1.6"/>
<line x1="468.45" y1="1119.5" x2="468.45" y2="1124.5" stroke="#8c8c8c" stroke-width="1.6"/>
<line x1="531.36" y1="1119.5" x2="531.36" y2="1124.5" stroke="#8c8c8c" stroke-width="1.6"/>
<line x1="594.27" y1="1119.5" x2="594.27" y2="1124.5" stroke="#8c8c8c" stroke-width="1.6"/>
<line x1="657.18" y1="1119.5" x2="657.18" y2="1124.5" stroke="#8c8c8c" stroke-width="1.6"/>
<line x1="720.09" y1="1119.5" x2="720.09" y2="1124.5" stroke="#8c8c8c" stroke-width="1.6"/>
<line x1="783.00" y1="1119.5" x2="783.00" y2="1124.5" stroke="#8c8c8c" stroke-width="1.6"/>
<line x1="91.0" y1="880.2" x2="91.0" y2="1124.5" stroke="#8c8c8c" stroke-width="1.8"/>
<line x1="783.0" y1="880.2" x2="783.0" y2="1124.5" stroke="#8c8c8c" stroke-width="1.8"/>
<rect x="101.30" y="1007.01" width="14.1" height="112.49" fill="#4010D0"/>
<rect x="115.40" y="1000.25" width="14.1" height="119.25" fill="#FFBE00"/>
<rect x="129.50" y="997.47" width="14.1" height="122.03" fill="#00A040"/>
<line x1="108.35" y1="1007.01" x2="108.35" y2="1000.85" stroke="#1a1a1a" stroke-width="1.6"/>
<line x1="102.75" y1="1000.85" x2="113.95" y2="1000.85" stroke="#1a1a1a" stroke-width="1.6"/>
<line x1="122.45" y1="1000.25" x2="122.45" y2="969.84" stroke="#1a1a1a" stroke-width="1.6"/>
<line x1="116.85" y1="969.84" x2="128.05" y2="969.84" stroke="#1a1a1a" stroke-width="1.6"/>
<line x1="136.55" y1="997.47" x2="136.55" y2="981.57" stroke="#1a1a1a" stroke-width="1.6"/>
<line x1="130.95" y1="981.57" x2="142.15" y2="981.57" stroke="#1a1a1a" stroke-width="1.6"/>
<rect x="164.21" y="982.76" width="14.1" height="136.74" fill="#4010D0"/>
<rect x="178.31" y="964.48" width="14.1" height="155.02" fill="#FFBE00"/>
<rect x="192.41" y="1007.01" width="14.1" height="112.49" fill="#00A040"/>
<line x1="171.26" y1="982.76" x2="171.26" y2="966.26" stroke="#1a1a1a" stroke-width="1.6"/>
<line x1="165.66" y1="966.26" x2="176.86" y2="966.26" stroke="#1a1a1a" stroke-width="1.6"/>
<line x1="185.36" y1="964.48" x2="185.36" y2="957.72" stroke="#1a1a1a" stroke-width="1.6"/>
<line x1="179.76" y1="957.72" x2="190.96" y2="957.72" stroke="#1a1a1a" stroke-width="1.6"/>
<line x1="199.46" y1="1007.01" x2="199.46" y2="1003.83" stroke="#1a1a1a" stroke-width="1.6"/>
<line x1="193.86" y1="1003.83" x2="205.06" y2="1003.83" stroke="#1a1a1a" stroke-width="1.6"/>
<rect x="227.12" y="999.26" width="14.1" height="120.24" fill="#4010D0"/>
<rect x="241.22" y="955.73" width="14.1" height="163.77" fill="#FFBE00"/>
<rect x="255.32" y="1005.82" width="14.1" height="113.68" fill="#00A040"/>
<line x1="234.17" y1="999.26" x2="234.17" y2="990.31" stroke="#1a1a1a" stroke-width="1.6"/>
<line x1="228.57" y1="990.31" x2="239.77" y2="990.31" stroke="#1a1a1a" stroke-width="1.6"/>
<line x1="248.27" y1="955.73" x2="248.27" y2="913.20" stroke="#1a1a1a" stroke-width="1.6"/>
<line x1="242.67" y1="913.20" x2="253.87" y2="913.20" stroke="#1a1a1a" stroke-width="1.6"/>
<line x1="262.37" y1="1005.82" x2="262.37" y2="997.67" stroke="#1a1a1a" stroke-width="1.6"/>
<line x1="256.77" y1="997.67" x2="267.97" y2="997.67" stroke="#1a1a1a" stroke-width="1.6"/>
<rect x="290.03" y="1003.03" width="14.1" height="116.47" fill="#4010D0"/>
<rect x="304.13" y="965.47" width="14.1" height="154.03" fill="#FFBE00"/>
<rect x="318.23" y="1012.17" width="14.1" height="107.33" fill="#00A040"/>
<line x1="297.08" y1="1003.03" x2="297.08" y2="988.33" stroke="#1a1a1a" stroke-width="1.6"/>
<line x1="291.48" y1="988.33" x2="302.68" y2="988.33" stroke="#1a1a1a" stroke-width="1.6"/>
<line x1="311.18" y1="965.47" x2="311.18" y2="955.53" stroke="#1a1a1a" stroke-width="1.6"/>
<line x1="305.58" y1="955.53" x2="316.78" y2="955.53" stroke="#1a1a1a" stroke-width="1.6"/>
<line x1="325.28" y1="1012.17" x2="325.28" y2="1010.19" stroke="#1a1a1a" stroke-width="1.6"/>
<line x1="319.68" y1="1010.19" x2="330.88" y2="1010.19" stroke="#1a1a1a" stroke-width="1.6"/>
<rect x="352.94" y="1012.97" width="14.1" height="106.53" fill="#4010D0"/>
<rect x="367.04" y="987.73" width="14.1" height="131.77" fill="#FFBE00"/>
<rect x="381.14" y="1023.70" width="14.1" height="95.80" fill="#00A040"/>
<line x1="359.99" y1="1012.97" x2="359.99" y2="1010.59" stroke="#1a1a1a" stroke-width="1.6"/>
<line x1="354.39" y1="1010.59" x2="365.59" y2="1010.59" stroke="#1a1a1a" stroke-width="1.6"/>
<line x1="374.09" y1="987.73" x2="374.09" y2="969.44" stroke="#1a1a1a" stroke-width="1.6"/>
<line x1="368.49" y1="969.44" x2="379.69" y2="969.44" stroke="#1a1a1a" stroke-width="1.6"/>
<line x1="388.19" y1="1023.70" x2="388.19" y2="1022.91" stroke="#1a1a1a" stroke-width="1.6"/>
<line x1="382.59" y1="1022.91" x2="393.79" y2="1022.91" stroke="#1a1a1a" stroke-width="1.6"/>
<rect x="415.85" y="1027.08" width="14.1" height="92.42" fill="#4010D0"/>
<rect x="429.95" y="996.67" width="14.1" height="122.83" fill="#FFBE00"/>
<rect x="444.05" y="1093.27" width="14.1" height="26.23" fill="#00A040"/>
<line x1="422.90" y1="1027.08" x2="422.90" y2="1021.91" stroke="#1a1a1a" stroke-width="1.6"/>
<line x1="417.30" y1="1021.91" x2="428.50" y2="1021.91" stroke="#1a1a1a" stroke-width="1.6"/>
<line x1="437.00" y1="996.67" x2="437.00" y2="975.21" stroke="#1a1a1a" stroke-width="1.6"/>
<line x1="431.40" y1="975.21" x2="442.60" y2="975.21" stroke="#1a1a1a" stroke-width="1.6"/>
<line x1="451.10" y1="1093.27" x2="451.10" y2="1092.87" stroke="#1a1a1a" stroke-width="1.6"/>
<line x1="445.50" y1="1092.87" x2="456.70" y2="1092.87" stroke="#1a1a1a" stroke-width="1.6"/>
<rect x="478.76" y="1039.40" width="14.1" height="80.10" fill="#4010D0"/>
<rect x="492.86" y="1017.34" width="14.1" height="102.16" fill="#FFBE00"/>
<rect x="506.96" y="1050.93" width="14.1" height="68.57" fill="#00A040"/>
<line x1="485.81" y1="1039.40" x2="485.81" y2="1030.06" stroke="#1a1a1a" stroke-width="1.6"/>
<line x1="480.21" y1="1030.06" x2="491.41" y2="1030.06" stroke="#1a1a1a" stroke-width="1.6"/>
<line x1="499.91" y1="1017.34" x2="499.91" y2="978.19" stroke="#1a1a1a" stroke-width="1.6"/>
<line x1="494.31" y1="978.19" x2="505.51" y2="978.19" stroke="#1a1a1a" stroke-width="1.6"/>
<line x1="514.01" y1="1050.93" x2="514.01" y2="1046.76" stroke="#1a1a1a" stroke-width="1.6"/>
<line x1="508.41" y1="1046.76" x2="519.61" y2="1046.76" stroke="#1a1a1a" stroke-width="1.6"/>
<rect x="541.67" y="1045.37" width="14.1" height="74.13" fill="#4010D0"/>
<rect x="555.77" y="1039.80" width="14.1" height="79.70" fill="#FFBE00"/>
<rect x="569.87" y="1063.45" width="14.1" height="56.05" fill="#00A040"/>
<line x1="548.72" y1="1045.37" x2="548.72" y2="1034.04" stroke="#1a1a1a" stroke-width="1.6"/>
<line x1="543.12" y1="1034.04" x2="554.32" y2="1034.04" stroke="#1a1a1a" stroke-width="1.6"/>
<line x1="562.82" y1="1039.80" x2="562.82" y2="1028.87" stroke="#1a1a1a" stroke-width="1.6"/>
<line x1="557.22" y1="1028.87" x2="568.42" y2="1028.87" stroke="#1a1a1a" stroke-width="1.6"/>
<line x1="576.92" y1="1063.45" x2="576.92" y2="1052.52" stroke="#1a1a1a" stroke-width="1.6"/>
<line x1="571.32" y1="1052.52" x2="582.52" y2="1052.52" stroke="#1a1a1a" stroke-width="1.6"/>
<rect x="604.58" y="1071.01" width="14.1" height="48.49" fill="#4010D0"/>
<rect x="618.68" y="1056.30" width="14.1" height="63.20" fill="#FFBE00"/>
<rect x="632.78" y="1073.39" width="14.1" height="46.11" fill="#00A040"/>
<line x1="611.63" y1="1071.01" x2="611.63" y2="1059.08" stroke="#1a1a1a" stroke-width="1.6"/>
<line x1="606.03" y1="1059.08" x2="617.23" y2="1059.08" stroke="#1a1a1a" stroke-width="1.6"/>
<line x1="625.73" y1="1056.30" x2="625.73" y2="1038.41" stroke="#1a1a1a" stroke-width="1.6"/>
<line x1="620.13" y1="1038.41" x2="631.33" y2="1038.41" stroke="#1a1a1a" stroke-width="1.6"/>
<line x1="639.83" y1="1073.39" x2="639.83" y2="1063.45" stroke="#1a1a1a" stroke-width="1.6"/>
<line x1="634.23" y1="1063.45" x2="645.43" y2="1063.45" stroke="#1a1a1a" stroke-width="1.6"/>
<rect x="667.49" y="1076.97" width="14.1" height="42.53" fill="#4010D0"/>
<rect x="681.59" y="1074.38" width="14.1" height="45.12" fill="#FFBE00"/>
<rect x="695.69" y="1086.31" width="14.1" height="33.19" fill="#00A040"/>
<line x1="674.54" y1="1076.97" x2="674.54" y2="1060.87" stroke="#1a1a1a" stroke-width="1.6"/>
<line x1="668.94" y1="1060.87" x2="680.14" y2="1060.87" stroke="#1a1a1a" stroke-width="1.6"/>
<line x1="688.64" y1="1074.38" x2="688.64" y2="1059.08" stroke="#1a1a1a" stroke-width="1.6"/>
<line x1="683.04" y1="1059.08" x2="694.24" y2="1059.08" stroke="#1a1a1a" stroke-width="1.6"/>
<line x1="702.74" y1="1086.31" x2="702.74" y2="1079.75" stroke="#1a1a1a" stroke-width="1.6"/>
<line x1="697.14" y1="1079.75" x2="708.34" y2="1079.75" stroke="#1a1a1a" stroke-width="1.6"/>
<rect x="730.40" y="1092.27" width="14.1" height="27.23" fill="#4010D0"/>
<rect x="744.50" y="1097.44" width="14.1" height="22.06" fill="#FFBE00"/>
<rect x="758.60" y="1099.23" width="14.1" height="20.27" fill="#00A040"/>
<line x1="737.45" y1="1092.27" x2="737.45" y2="1080.35" stroke="#1a1a1a" stroke-width="1.6"/>
<line x1="731.85" y1="1080.35" x2="743.05" y2="1080.35" stroke="#1a1a1a" stroke-width="1.6"/>
<line x1="751.55" y1="1097.44" x2="751.55" y2="1090.48" stroke="#1a1a1a" stroke-width="1.6"/>
<line x1="745.95" y1="1090.48" x2="757.15" y2="1090.48" stroke="#1a1a1a" stroke-width="1.6"/>
<line x1="765.65" y1="1099.23" x2="765.65" y2="1096.84" stroke="#1a1a1a" stroke-width="1.6"/>
<line x1="760.05" y1="1096.84" x2="771.25" y2="1096.84" stroke="#1a1a1a" stroke-width="1.6"/>
<line x1="91.0" y1="1119.5" x2="783.0" y2="1119.5" stroke="#8c8c8c" stroke-width="1.6"/>
<text x="75.6" y="1125.10" text-anchor="end" font-size="21">0</text>
<text x="75.6" y="1085.35" text-anchor="end" font-size="21">2</text>
<text x="75.6" y="1045.60" text-anchor="end" font-size="21">4</text>
<text x="75.6" y="1005.85" text-anchor="end" font-size="21">6</text>
<text x="75.6" y="966.10" text-anchor="end" font-size="21">8</text>
<text x="75.6" y="926.35" text-anchor="end" font-size="21">10</text>
<text x="75.6" y="886.60" text-anchor="end" font-size="21">12</text>
<text x="120.50" y="1145.30" text-anchor="middle" font-size="20.8">0</text>
<text x="179.30" y="1145.30" text-anchor="middle" font-size="20.8">100</text>
<text x="248.00" y="1145.30" text-anchor="middle" font-size="20.8">200</text>
<text x="312.10" y="1145.30" text-anchor="middle" font-size="20.8">300</text>
<text x="376.00" y="1145.30" text-anchor="middle" font-size="20.8">400</text>
<text x="440.50" y="1145.30" text-anchor="middle" font-size="20.8">500</text>
<text x="504.20" y="1145.30" text-anchor="middle" font-size="20.8">600</text>
<text x="562.50" y="1145.30" text-anchor="middle" font-size="20.8">700</text>
<text x="626.40" y="1145.30" text-anchor="middle" font-size="20.8">800</text>
<text x="690.20" y="1145.30" text-anchor="middle" font-size="20.8">900</text>
<text x="754.70" y="1145.30" text-anchor="middle" font-size="20.8">1000</text>
<text x="393" y="1178.3" font-size="20.9">NaCl (mM)</text>
<text transform="translate(41.0 1017.1) rotate(-90)" font-size="20.5">OD<tspan font-size="12.5" dy="7.4">750</tspan></text>
<text x="99.8" y="906.4" font-size="20.8">OD<tspan font-size="13" dy="7.3">750</tspan><tspan dy="-7.3">=0.1 start, 7 d</tspan></text>
<rect x="701.5" y="905.80" width="15.5" height="15.6" fill="#4010D0"/>
<text x="728.8" y="920.40" font-size="18">Cm</text>
<rect x="701.5" y="931.90" width="15.5" height="15.6" fill="#FFBE00"/>
<text x="728.8" y="946.50" font-size="18">Cc</text>
<rect x="701.5" y="958.00" width="15.5" height="15.6" fill="#00A040"/>
<text x="728.8" y="972.60" font-size="18">Gs</text>
<rect x="355.51" y="24.22" width="4.94" height="3.98" fill="#fff"/><rect x="362.48" y="24.22" width="4.85" height="3.98" fill="#fff"/><rect x="378.01" y="629.02" width="4.94" height="3.98" fill="#fff"/><rect x="384.98" y="629.02" width="4.85" height="3.98" fill="#fff"/><rect x="52.54" y="322.18" width="4.90" height="3.97" fill="#fff"/><rect x="59.46" y="322.18" width="4.82" height="3.97" fill="#fff"/><rect x="52.54" y="282.43" width="4.90" height="3.97" fill="#fff"/><rect x="59.46" y="282.43" width="4.82" height="3.97" fill="#fff"/><rect x="162.23" y="545.65" width="4.87" height="3.95" fill="#fff"/><rect x="169.10" y="545.65" width="4.78" height="3.95" fill="#fff"/><rect x="731.85" y="545.65" width="4.87" height="3.95" fill="#fff"/><rect x="738.72" y="545.65" width="4.78" height="3.95" fill="#fff"/><rect x="182.48" y="302.25" width="4.87" height="3.95" fill="#fff"/><rect x="189.34" y="302.25" width="4.78" height="3.95" fill="#fff"/><rect x="52.54" y="923.68" width="4.90" height="3.97" fill="#fff"/><rect x="59.46" y="923.68" width="4.82" height="3.97" fill="#fff"/><rect x="52.54" y="883.93" width="4.90" height="3.97" fill="#fff"/><rect x="59.46" y="883.93" width="4.82" height="3.97" fill="#fff"/><rect x="162.23" y="1142.65" width="4.87" height="3.95" fill="#fff"/><rect x="169.10" y="1142.65" width="4.78" height="3.95" fill="#fff"/><rect x="731.85" y="1142.65" width="4.87" height="3.95" fill="#fff"/><rect x="738.72" y="1142.65" width="4.78" height="3.95" fill="#fff"/><rect x="182.48" y="903.75" width="4.87" height="3.95" fill="#fff"/><rect x="189.34" y="903.75" width="4.78" height="3.95" fill="#fff"/>
</svg>
</body></html>
